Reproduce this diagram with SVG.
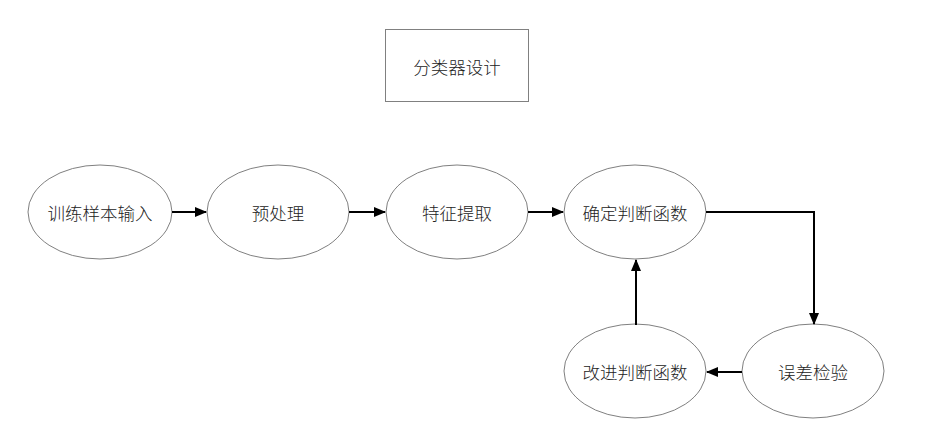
<svg xmlns="http://www.w3.org/2000/svg" width="930" height="435" viewBox="0 0 930 435">
<style>
.n{fill:#fff;stroke:#808080;stroke-width:1}
.t{font-family:"Noto Sans CJK SC",sans-serif;font-size:17.5px;font-weight:300;fill:#222;text-anchor:middle;dominant-baseline:central}
.c{fill:none;stroke:#000;stroke-width:2;marker-end:url(#a)}
</style>
<defs>
<marker id="a" markerWidth="12" markerHeight="10" refX="11" refY="5" orient="auto" markerUnits="userSpaceOnUse">
<path d="M0,0 L12,5 L0,10 Z" fill="#000"/>
</marker>
</defs>
<rect width="930" height="435" fill="#fff"/>
<g id="title"><rect class="n" x="385.5" y="29.5" width="143" height="72"/><text class="t" x="457" y="66">分类器设计</text></g>
<g id="n1"><ellipse class="n" cx="100" cy="212" rx="72" ry="47"/><text class="t" x="100" y="212">训练样本输入</text></g>
<g id="n2"><ellipse class="n" cx="278" cy="212" rx="71" ry="47"/><text class="t" x="278" y="212">预处理</text></g>
<g id="n3"><ellipse class="n" cx="457" cy="212" rx="71" ry="47"/><text class="t" x="457" y="212">特征提取</text></g>
<g id="n4"><ellipse class="n" cx="635" cy="212" rx="71" ry="47"/><text class="t" x="635" y="212">确定判断函数</text></g>
<g id="n5"><ellipse class="n" cx="635" cy="371" rx="71" ry="47"/><text class="t" x="635" y="371">改进判断函数</text></g>
<g id="n6"><ellipse class="n" cx="813" cy="371" rx="71" ry="47"/><text class="t" x="813" y="371">误差检验</text></g>
<g id="connectors">
<path class="c" d="M172,212 H206"/>
<path class="c" d="M349,212 H385"/>
<path class="c" d="M528,212 H563"/>
<path class="c" d="M706,212 H814 V324"/>
<path class="c" d="M742,372 H707"/>
<path class="c" d="M636,325 V260"/>
</g>
</svg>
